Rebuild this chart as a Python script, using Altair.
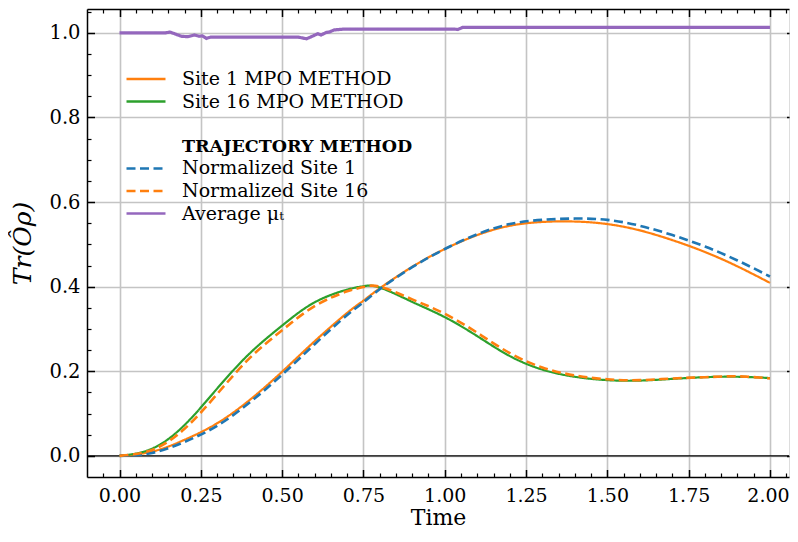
import altair as alt
import pandas as pd

# ---------------- data ----------------
t_vals = [0.0, 0.1, 0.2, 0.3, 0.4, 0.5, 0.6, 0.7, 0.75, 0.8, 0.9, 1.0,
          1.1, 1.2, 1.3, 1.4, 1.5, 1.6, 1.7, 1.8, 1.9, 2.0]
site1_mpo = [0.000, 0.010, 0.038, 0.077, 0.132, 0.199, 0.271, 0.338, 0.367, 0.396, 0.447, 0.489,
             0.522, 0.544, 0.553, 0.554, 0.548, 0.533, 0.510, 0.482, 0.448, 0.409]
site16_mpo = [0.000, 0.017, 0.073, 0.159, 0.242, 0.308, 0.363, 0.393, 0.401, 0.398, 0.364, 0.328,
              0.283, 0.236, 0.204, 0.187, 0.179, 0.178, 0.182, 0.186, 0.187, 0.184]
norm_site1 = [0.000, 0.007, 0.033, 0.071, 0.126, 0.192, 0.264, 0.333, 0.363, 0.394, 0.446, 0.489,
              0.524, 0.548, 0.558, 0.561, 0.558, 0.544, 0.522, 0.495, 0.462, 0.424]
norm_site16 = [0.000, 0.014, 0.064, 0.146, 0.231, 0.297, 0.354, 0.389, 0.399, 0.400, 0.370, 0.336,
               0.291, 0.243, 0.209, 0.190, 0.181, 0.179, 0.183, 0.186, 0.188, 0.183]

mu_t = [0.0, 0.14, 0.155, 0.19, 0.21, 0.23, 0.245, 0.255, 0.267, 0.28, 0.55, 0.575,
        0.61, 0.62, 0.635, 0.645, 0.66, 0.69, 1.03, 1.04, 1.055, 2.0]
mu_vals = [1.000, 1.000, 1.002, 0.992, 0.991, 0.995, 0.992, 0.993, 0.987, 0.990, 0.990, 0.986,
           0.998, 0.995, 1.001, 1.002, 1.007, 1.009, 1.009, 1.008, 1.013, 1.013]

x_major = [0.0, 0.25, 0.5, 0.75, 1.0, 1.25, 1.5, 1.75, 2.0]
y_major = [0.0, 0.2, 0.4, 0.6, 0.8, 1.0]
x_minor = [round(-0.05 + 0.05 * i, 2) for i in range(43)]
x_minor = [v for v in x_minor if all(abs(v - m) > 1e-9 for m in x_major)]
y_minor = [round(0.05 * i, 2) for i in range(22)]
y_minor = [v for v in y_minor if all(abs(v - m) > 1e-9 for m in y_major)]

S1 = "Site 1 MPO METHOD"
S16 = "Site 16 MPO METHOD"
BL = " "
HD = "TRAJECTORY METHOD"
N1 = "Normalized Site 1"
N16 = "Normalized Site 16"
AV = "Average μₜ"
series_order = [S1, S16, BL, HD, N1, N16, AV]
series_colors = ["#ff7f0e", "#2ca02c", "rgba(0,0,0,0)", "rgba(0,0,0,0)",
                 "#1f77b4", "#ff7f0e", "#9467bd"]
series_dash = [[1, 0], [1, 0], [1, 0], [1, 0], [9, 4.5], [9, 4.5], [1, 0]]

# ---------------- tables ----------------
def long(name, ys, xs=t_vals):
    return pd.DataFrame({"t": xs, "v": ys, "series": name})

solid_df = pd.concat([long(S1, site1_mpo), long(S16, site16_mpo)], ignore_index=True)
dash_df = pd.concat([long(N1, norm_site1), long(N16, norm_site16)], ignore_index=True)
mu_df = long(AV, mu_vals, mu_t)
anchor = pd.DataFrame({"t": [0.0], "v": [0.0]})

FONT = "DejaVu Serif"
xs = alt.Scale(domain=[-0.1, 2.0585], nice=False, zero=False)
ys = alt.Scale(domain=[-0.05, 1.0565], nice=False, zero=False)

legend = alt.Legend(
    orient="none", legendX=48, legendY=59, title=None, padding=0,
    symbolType="M-2,0L2,0", symbolSize=380, labelOffset=25, rowPadding=1.6,
    labelFont=FONT, labelFontSize={"expr": "datum && datum.value == 'TRAJECTORY METHOD' ? 17.5 : 19"},
    labelColor="black", labelLimit=500,
    labelFontWeight={"expr": "datum && datum.value == 'TRAJECTORY METHOD' ? 'bold' : 'normal'"},
    symbolStrokeWidth=2.5,
    symbolOpacity=1,
)
color_enc = alt.Color("series:N", scale=alt.Scale(domain=series_order, range=series_colors), legend=legend)
dash_enc = alt.StrokeDash("series:N", scale=alt.Scale(domain=series_order, range=series_dash), legend=legend)


def lines(df, width, interp):
    return alt.Chart(df).mark_line(strokeWidth=width, interpolate=interp).encode(
        x=alt.X("t:Q", scale=xs, axis=None),
        y=alt.Y("v:Q", scale=ys, axis=None),
        color=color_enc, strokeDash=dash_enc,
        order=alt.Order("t:Q"),
    )


def axis_layer(xaxis=None, yaxis=None):
    return alt.Chart(anchor).mark_point(opacity=0).encode(
        x=alt.X("t:Q", scale=xs, axis=xaxis),
        y=alt.Y("v:Q", scale=ys, axis=yaxis),
    )


GRID = "#c4c4c4"
main_x = alt.Axis(orient="bottom", values=x_major, format=".2f", grid=True, gridColor=GRID,
                  gridWidth=1.6, domain=True, domainColor="black", domainWidth=1.5, ticks=False,
                  labelPadding=9, labelFont=FONT, labelFontSize=19, labelColor="black",
                  labelOffset={"condition": {"test": "datum.value >= 1.99", "value": -2}, "value": 0},
                  labelFlush=False, labelOverlap=False, title="Time", titleFont=FONT,
                  titleFontSize=22, titleFontWeight="normal", titleColor="black",
                  titlePadding=2, zindex=0)
main_y = alt.Axis(orient="left", values=y_major, format=".1f", grid=True, gridColor=GRID,
                  gridWidth=1.6, domain=True, domainColor="black", domainWidth=1.5, ticks=False,
                  labelPadding=7, labelFont=FONT, labelFontSize=19.5, labelColor="black",
                  labelFlush=False, labelOverlap=False, title="Tr(Ôρ)", titleFont=FONT,
                  titleFontSize=25, titleFontWeight="normal", titleFontStyle="italic",
                  titleColor="black", titlePadding=13, zindex=0)
top_spine = alt.Axis(orient="top", domain=True, domainColor="black", domainWidth=1.5,
                     ticks=False, labels=False, grid=False, title=None)


def tick_axis(orient, values, size, offset, width):
    return alt.Axis(orient=orient, values=values, ticks=True, tickSize=size, tickWidth=width,
                    tickColor="black", offset=offset, domain=False, labels=False, grid=False,
                    title=None, zindex=1)


layers = [
    axis_layer(xaxis=main_x, yaxis=main_y),
    axis_layer(xaxis=top_spine),
    axis_layer(xaxis=tick_axis("bottom", x_major, 7.5, -7.5, 1.5)),
    axis_layer(xaxis=tick_axis("bottom", x_minor, 4, -4, 1.2)),
    axis_layer(xaxis=tick_axis("top", x_major, 7.5, -7.5, 1.5)),
    axis_layer(xaxis=tick_axis("top", x_minor, 4, -4, 1.2)),
    axis_layer(yaxis=tick_axis("left", y_major, 7.5, -7.5, 1.5)),
    axis_layer(yaxis=tick_axis("left", y_minor, 4, -4, 1.2)),
    axis_layer(yaxis=tick_axis("right", y_major, 2.5, -2.5, 1.5)),
    alt.Chart(anchor).mark_rule(color="black", strokeWidth=1.4).encode(
        y=alt.YDatum(0, scale=ys, axis=None)),
    lines(solid_df, 2.2, "natural"),
    lines(dash_df, 2.6, "natural"),
    lines(mu_df, 3.2, "linear"),
]

chart = alt.layer(*layers).resolve_axis(x="independent", y="independent").properties(
    width=702, height=468,
    padding={"left": 79, "top": 1, "right": 1, "bottom": 53},
    autosize=alt.AutoSizeParams(type="none"),
).configure_view(stroke=None).configure(background="white")

chart.save("out.html", embed_options={"renderer": "svg", "actions": False})
